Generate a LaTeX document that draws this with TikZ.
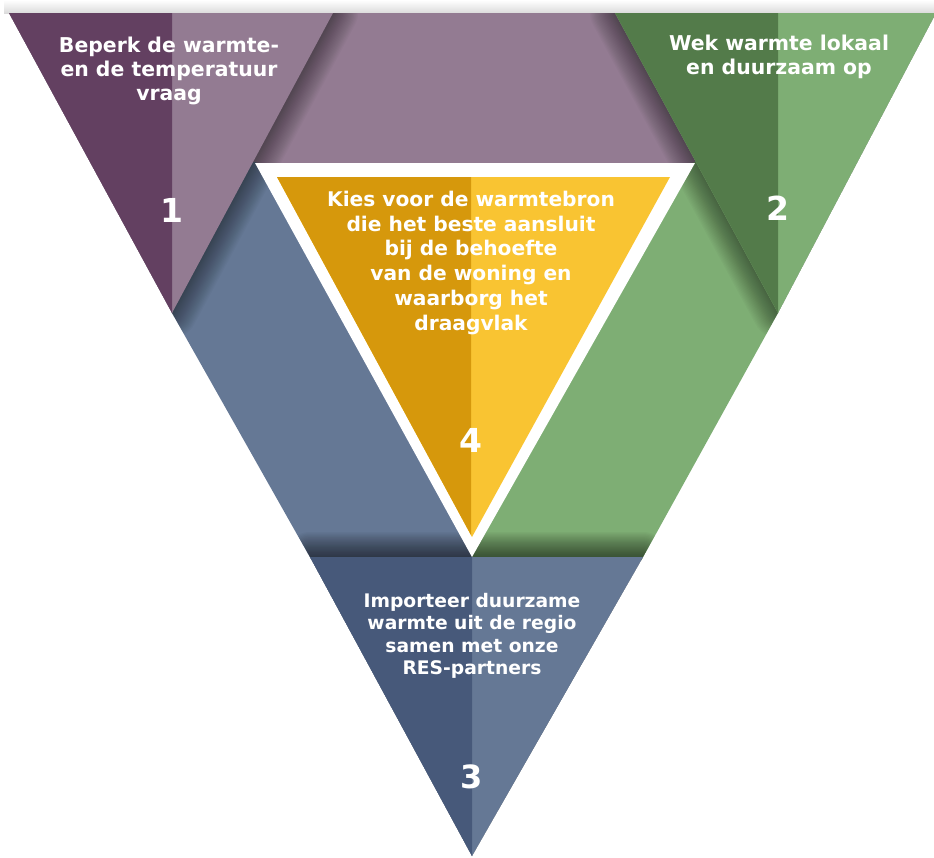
\documentclass[tikz,border=0pt]{standalone}
\usepackage{fontspec}
\setmainfont{DejaVu Sans}
\definecolor{pD}{HTML}{634061}
\definecolor{pL}{HTML}{937B92}
\definecolor{gD}{HTML}{537B4A}
\definecolor{gL}{HTML}{7EAE74}
\definecolor{bD}{HTML}{47597A}
\definecolor{bL}{HTML}{657895}
\definecolor{yD}{HTML}{D6980C}
\definecolor{yL}{HTML}{F9C432}
\begin{document}
\begin{tikzpicture}[x=1pt,y=-1pt,
  lbl/.style={text=white,font=\fontsize{20.4}{24}\selectfont\bfseries,align=center,inner sep=0pt,anchor=north},
  num/.style={text=white,font=\fontsize{33}{36}\selectfont\bfseries,inner sep=0pt},
  shadowline/.style={black,line join=round}]
\useasboundingbox (0,0) rectangle (934,857);
\shade[top color=white,bottom color=black!14] (4,0) rectangle (934,13);
% bands
\fill[pL] (300,13) -- (650,13) -- (697,163.5) -- (252,163.5) -- cycle;
\fill[bL] (256,162) -- (474,560) -- (311.5,560) -- (172,313) -- (240,162) -- cycle;
\fill[gL] (694,162) -- (710,162) -- (778,313) -- (641.5,560) -- (470,560) -- cycle;
% shadows
\begin{scope}
\clip (9,13) -- (936,13) -- (778,313) -- (643,557) -- (472,856) -- (310,557) -- (172,313) -- cycle;
\foreach \i in {1,...,20}{
 \draw[shadowline,opacity=0.024,line width=\i*2.5pt] (9,13) -- (333,13) -- (172,313) -- cycle;
 \draw[shadowline,opacity=0.024,line width=\i*2.5pt] (615,13) -- (936,13) -- (778,313) -- cycle;
 \draw[shadowline,opacity=0.032,line width=\i*2.5pt] (310,557) -- (643,557) -- (472,856) -- cycle;
}
\end{scope}
% inner triangle
\fill[white] (255,163) -- (695,163) -- (472,557) -- cycle;
\fill[yL] (277,177) -- (670,177) -- (472,537) -- cycle;
\begin{scope}
\clip (0,0) rectangle (471,857);
\fill[yD] (277,177) -- (670,177) -- (472,537) -- cycle;
\end{scope}
% corner triangles
\fill[pL] (9,13) -- (333,13) -- (172,313) -- cycle;
\begin{scope}
\clip (0,0) rectangle (172,857);
\fill[pD] (9,13) -- (333,13) -- (172,313) -- cycle;
\end{scope}
\fill[gL] (615,13) -- (936,13) -- (778,313) -- cycle;
\begin{scope}
\clip (0,0) rectangle (778,857);
\fill[gD] (615,13) -- (936,13) -- (778,313) -- cycle;
\end{scope}
\fill[bL] (310,557) -- (643,557) -- (472,856) -- cycle;
\begin{scope}
\clip (0,0) rectangle (472,857);
\fill[bD] (310,557) -- (643,557) -- (472,856) -- cycle;
\end{scope}
% texts
\node[lbl] (t1) at (169,36.5) {Beperk de warmte-\\en de temperatuur\\vraag};
\node[lbl] (t2) at (779,35.2) {Wek warmte lokaal\\en duurzaam op};
\node[lbl,font=\fontsize{20.2}{24.8}\selectfont\bfseries] (t4) at (471,190.8) {Kies voor de warmtebron\\die het beste aansluit\\bij de behoefte\\van de woning en\\waarborg het\\draagvlak};
\node[lbl,font=\fontsize{18.7}{22.5}\selectfont\bfseries] (t3) at (472,593) {Importeer duurzame\\warmte uit de regio\\samen met onze\\RES-partners};
\node[num] (n1) at (172,210) {1};
\node[num] (n2) at (778,208) {2};
\node[num] (n4) at (471,440) {4};
\node[num,font=\fontsize{32}{36}\selectfont\bfseries] (n3) at (472,777) {3};
\end{tikzpicture}
\end{document}
